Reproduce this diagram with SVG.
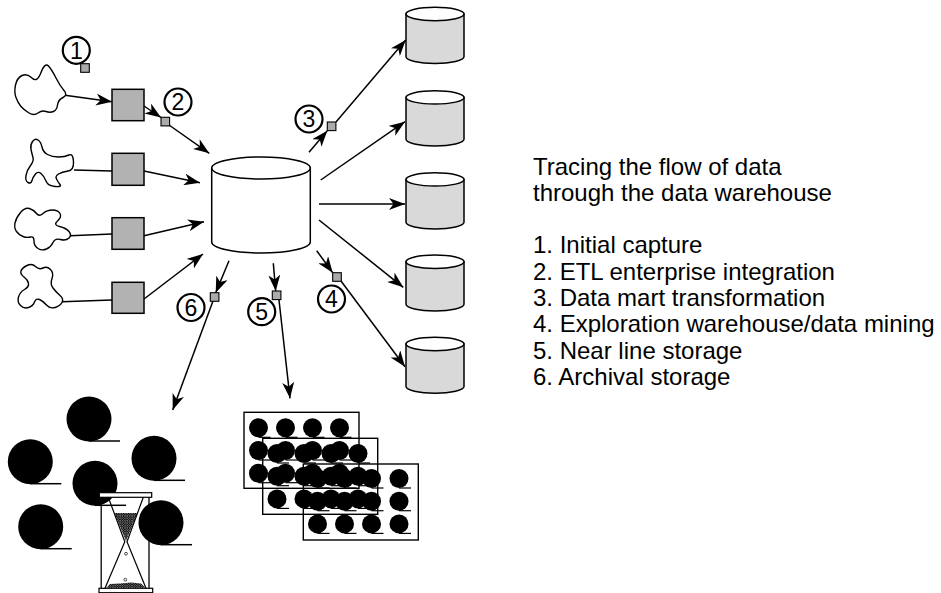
<svg xmlns="http://www.w3.org/2000/svg" xmlns:xlink="http://www.w3.org/1999/xlink" width="941" height="593" viewBox="0 0 941 593">
  <style>
    .ln { stroke: #000; stroke-width: 1.5; fill: none; }
    .arr { marker-end: url(#head); }
    .blob { fill: #fff; stroke: #000; stroke-width: 1.4; stroke-linejoin: round; }
    .box { fill: #b2b2b2; stroke: #000; stroke-width: 1.5; }
    .sq { fill: #ababab; stroke: #000; stroke-width: 1.1; }
    .badge { fill: #fff; stroke: #000; stroke-width: 2.2; }
    .num { font-family: "Liberation Sans", Arial, sans-serif; font-size: 23px; text-anchor: middle; fill: #000; }
    .dw { fill: #fff; stroke: #000; stroke-width: 1.5; }
    .mart { fill: #d9d9d9; stroke: #000; stroke-width: 1.5; }
    .lid { fill: #fff; stroke: #000; stroke-width: 1.5; }
    .card { fill: none; stroke: #000; stroke-width: 1.4; }
    .legend { font-family: "Liberation Sans", Arial, sans-serif; font-size: 24px; fill: #000; }
  </style>
  <defs>
    <marker id="head" viewBox="0 0 16 12" refX="16" refY="6" markerWidth="16" markerHeight="12" markerUnits="userSpaceOnUse" orient="auto">
      <path d="M0,0 L16,6 L0,12 L4.5,6 Z" fill="#000"/>
    </marker>
    <!-- reel of tape: black disc with a trailing strip -->
    <g id="reel">
      <circle r="22.5" fill="#000"/>
      <line x1="0" y1="22" x2="31" y2="22" stroke="#000" stroke-width="1.5"/>
    </g>
    <!-- small reel on a storage card -->
    <g id="dot">
      <circle r="9.5" fill="#000"/>
      <line x1="0" y1="9.5" x2="12" y2="9.5" stroke="#000" stroke-width="1.2"/>
    </g>
    <pattern id="grain" width="2.4" height="2.4" patternUnits="userSpaceOnUse">
      <rect width="2.4" height="2.4" fill="#fff"/>
      <circle cx="1.2" cy="1.2" r="0.8" fill="#fff" stroke="#000" stroke-width="0.9"/>
    </pattern>
  </defs>

  <!-- connectors -->
  <g id="connectors">
    <line class="ln arr" x1="65" y1="95.3" x2="112" y2="101.7"/>
    <line class="ln" x1="74" y1="170" x2="112" y2="171"/>
    <line class="ln" x1="70" y1="235.7" x2="112" y2="234"/>
    <line class="ln" x1="62" y1="301.7" x2="112" y2="300"/>
    <line class="ln arr" x1="144" y1="106" x2="161" y2="117.5"/>
    <line class="ln arr" x1="169" y1="125" x2="209.3" y2="153.3"/>
    <line class="ln arr" x1="144" y1="171" x2="200" y2="182.7"/>
    <line class="ln arr" x1="144" y1="235.7" x2="204" y2="221.7"/>
    <line class="ln arr" x1="144" y1="299" x2="203" y2="254"/>
    <line class="ln arr" x1="309" y1="152.3" x2="327.3" y2="130.8"/>
    <line class="ln arr" x1="336" y1="122" x2="405.7" y2="40"/>
    <line class="ln arr" x1="320.7" y1="180" x2="405" y2="121.7"/>
    <line class="ln arr" x1="319" y1="204" x2="405" y2="204"/>
    <line class="ln arr" x1="319" y1="220" x2="403.3" y2="287.3"/>
    <line class="ln arr" x1="316.7" y1="250.7" x2="332.7" y2="272.7"/>
    <line class="ln arr" x1="341" y1="281" x2="405" y2="366.7"/>
    <line class="ln arr" x1="229" y1="260.7" x2="215.7" y2="292.7"/>
    <line class="ln arr" x1="213" y1="301" x2="172.7" y2="410"/>
    <line class="ln arr" x1="273.3" y1="263.3" x2="275.7" y2="291"/>
    <line class="ln arr" x1="279" y1="300" x2="290" y2="398.3"/>
  </g>

  <!-- sources -->
  <g id="source-1">
    <path class="blob" d="M15.5,85 Q17,78 22,75.5 Q27,73 32,78 Q37,83 41,72.5 Q45,62 48.5,66 Q52,70 56,78 Q60,86 64,90.5 Q68,95 63,97.5 Q58,100 57.5,105 Q57,110 53.5,111.5 Q50,113 46,111.5 Q42,110 38,113 Q34,116 29,113 Q24,110 21,106.5 Q18,103 16,97.5 Q14,92 15.5,85 Z"/>
  </g>
  <g id="source-2">
    <path class="blob" d="M32.5,141.5 Q35,138 38,140 Q41,142 42,147 Q43,152 47.5,154.5 Q52,157 58.5,157 Q65,157 69,155 Q73,153 73.5,161.5 Q74,170 68,171 Q62,172 58.5,174 Q55,176 56.5,179 Q58,182 60,184.5 Q62,187 55,186.5 Q48,186 46,181 Q44,176 41,173.5 Q38,171 35.5,174 Q33,177 32,180.5 Q31,184 28,182.5 Q25,181 26,175.5 Q27,170 30.5,165.5 Q34,161 33,157.5 Q32,154 31,149.5 Q30,145 32.5,141.5 Z"/>
  </g>
  <g id="source-3">
    <path class="blob" d="M15,223 Q16,218 20.5,212.5 Q25,207 29.5,208.5 Q34,210 36.5,213.5 Q39,217 43,213.5 Q47,210 52.5,210 Q58,210 60,213.5 Q62,217 57.5,221 Q53,225 59.5,226.5 Q66,228 69,231.5 Q72,235 69,238 Q66,241 60.5,239.5 Q55,238 53,242.5 Q51,247 46.5,249 Q42,251 38,248.5 Q34,246 34,241 Q34,236 30.5,237 Q27,238 23,236.5 Q19,235 16.5,231.5 Q14,228 15,223 Z"/>
  </g>
  <g id="source-4">
    <path class="blob" d="M27,265.5 Q32,263 35.5,266.5 Q39,270 43,268 Q47,266 50.5,269.5 Q54,273 52,278.5 Q50,284 53,288 Q56,292 60,295.5 Q64,299 62,302.5 Q60,306 55,307.5 Q50,309 46.5,305 Q43,301 39.5,299.5 Q36,298 34.5,302 Q33,306 28.5,307.5 Q24,309 20.5,305.5 Q17,302 18.5,297 Q20,292 24.5,289.5 Q29,287 28.5,283.5 Q28,280 24,277 Q20,274 21,271 Q22,268 27,265.5 Z"/>
  </g>

  <!-- capture programs -->
  <g id="program-1"><rect class="box" x="112" y="89.3" width="32" height="31.4"/></g>
  <g id="program-2"><rect class="box" x="112" y="153.3" width="32" height="32"/></g>
  <g id="program-3"><rect class="box" x="112" y="217.7" width="32" height="31.6"/></g>
  <g id="program-4"><rect class="box" x="112" y="282.3" width="32" height="31"/></g>

  <!-- enterprise data warehouse -->
  <g id="warehouse">
    <path class="dw" d="M211.7,168 V242 A49.3,11 0 0 0 310.3,242 V168 Z"/>
    <ellipse class="dw" cx="261" cy="168" rx="49.3" ry="11"/>
  </g>

  <!-- data marts -->
  <g id="mart-1">
    <path class="mart" d="M406,14 V56.7 A29,6.7 0 0 0 464,56.7 V14 Z"/>
    <ellipse class="lid" cx="435" cy="14" rx="29" ry="6.7"/>
  </g>
  <g id="mart-2">
    <path class="mart" d="M406,97.4 V139.3 A29,6.7 0 0 0 464,139.3 V97.4 Z"/>
    <ellipse class="lid" cx="435" cy="97.4" rx="29" ry="6.7"/>
  </g>
  <g id="mart-3">
    <path class="mart" d="M406,179.4 V222.3 A29,6.7 0 0 0 464,222.3 V179.4 Z"/>
    <ellipse class="lid" cx="435" cy="179.4" rx="29" ry="6.7"/>
  </g>
  <g id="mart-4">
    <path class="mart" d="M406,261.7 V304.3 A29,6.7 0 0 0 464,304.3 V261.7 Z"/>
    <ellipse class="lid" cx="435" cy="261.7" rx="29" ry="6.7"/>
  </g>
  <g id="mart-5">
    <path class="mart" d="M406,344 V386.6 A29,6.7 0 0 0 464,386.6 V344 Z"/>
    <ellipse class="lid" cx="435" cy="344" rx="29" ry="6.7"/>
  </g>

  <!-- archival storage: tape reels and hourglass -->
  <g id="archive">
    <use xlink:href="#reel" x="89" y="419"/>
    <use xlink:href="#reel" x="30.3" y="461.7"/>
    <use xlink:href="#reel" x="154" y="458.3"/>
    <use xlink:href="#reel" x="95" y="483.3"/>
    <use xlink:href="#reel" x="40.7" y="526.7"/>
    <g id="hourglass">
      <rect x="99.3" y="492.7" width="52.4" height="4.6" fill="#fff" stroke="#000" stroke-width="1.2"/>
      <rect x="99" y="588.3" width="53.7" height="4.4" fill="#fff" stroke="#000" stroke-width="1.2"/>
      <line x1="101.2" y1="497.3" x2="101.2" y2="588.3" stroke="#000" stroke-width="1.3"/>
      <line x1="149" y1="497.3" x2="149" y2="588.3" stroke="#000" stroke-width="1.3"/>
      <polygon points="114.5,513 137.3,513 126,541" fill="url(#grain)"/>
      <polygon points="106,588.3 146,588.3 141,583.5 131,582.5 120,583.5 110,584" fill="url(#grain)"/>
      <circle cx="126" cy="553.7" r="1.4" fill="#fff" stroke="#000" stroke-width="0.7"/>
      <circle cx="125.3" cy="579.7" r="1.4" fill="#fff" stroke="#000" stroke-width="0.7"/>
      <polyline points="108.3,497.3 124.8,541.7 105,588.3" fill="none" stroke="#000" stroke-width="1.2"/>
      <polyline points="143.3,497.3 127,541.7 146,588.3" fill="none" stroke="#000" stroke-width="1.2"/>
    </g>
    <use xlink:href="#reel" x="161" y="522.7"/>
  </g>

  <!-- near line storage: stacked cards -->
  <g id="near-line">
    <g id="card-1">
      <rect class="card" x="244" y="412.3" width="115" height="76"/>
      <use xlink:href="#dot" x="258.5" y="427.8"/><use xlink:href="#dot" x="285.5" y="427.8"/><use xlink:href="#dot" x="312.5" y="427.8"/><use xlink:href="#dot" x="339.5" y="427.8"/>
      <use xlink:href="#dot" x="258.5" y="450.5"/><use xlink:href="#dot" x="285.5" y="450.5"/><use xlink:href="#dot" x="312.5" y="450.5"/><use xlink:href="#dot" x="339.5" y="450.5"/>
      <use xlink:href="#dot" x="258.5" y="473.2"/><use xlink:href="#dot" x="285.5" y="473.2"/><use xlink:href="#dot" x="312.5" y="473.2"/><use xlink:href="#dot" x="339.5" y="473.2"/>
    </g>
    <g id="card-2">
      <rect class="card" x="262.7" y="438.3" width="115" height="76"/>
      <use xlink:href="#dot" x="277" y="453.5"/><use xlink:href="#dot" x="304" y="453.5"/><use xlink:href="#dot" x="331" y="453.5"/><use xlink:href="#dot" x="358" y="453.5"/>
      <use xlink:href="#dot" x="277" y="476.2"/><use xlink:href="#dot" x="304" y="476.2"/><use xlink:href="#dot" x="331" y="476.2"/><use xlink:href="#dot" x="358" y="476.2"/>
      <use xlink:href="#dot" x="277" y="498.9"/><use xlink:href="#dot" x="304" y="498.9"/><use xlink:href="#dot" x="331" y="498.9"/><use xlink:href="#dot" x="358" y="498.9"/>
    </g>
    <g id="card-3">
      <rect class="card" x="303.3" y="464" width="115" height="76"/>
      <use xlink:href="#dot" x="317.5" y="478.5"/><use xlink:href="#dot" x="344.5" y="478.5"/><use xlink:href="#dot" x="371.5" y="478.5"/><use xlink:href="#dot" x="399" y="478.5"/>
      <use xlink:href="#dot" x="317.5" y="501.2"/><use xlink:href="#dot" x="344.5" y="501.2"/><use xlink:href="#dot" x="371.5" y="501.2"/><use xlink:href="#dot" x="399" y="501.2"/>
      <use xlink:href="#dot" x="317.5" y="523.9"/><use xlink:href="#dot" x="344.5" y="523.9"/><use xlink:href="#dot" x="371.5" y="523.9"/><use xlink:href="#dot" x="399" y="523.9"/>
    </g>
  </g>

  <!-- numbered stages -->
  <g id="stage-1">
    <rect class="sq" x="80.7" y="63.7" width="8.6" height="8.6"/>
    <circle class="badge" cx="76.3" cy="50.3" r="13.5"/>
    <text class="num" x="76.3" y="58.5">1</text>
  </g>
  <g id="stage-2">
    <rect class="sq" x="161" y="117.3" width="8.6" height="8.6"/>
    <circle class="badge" cx="178" cy="102" r="13.5"/>
    <text class="num" x="178" y="110.2">2</text>
  </g>
  <g id="stage-3">
    <rect class="sq" x="327.3" y="122" width="8.6" height="8.6"/>
    <circle class="badge" cx="309" cy="119" r="13.5"/>
    <text class="num" x="309" y="127.2">3</text>
  </g>
  <g id="stage-4">
    <rect class="sq" x="332.7" y="272.7" width="8.6" height="8.6"/>
    <circle class="badge" cx="331.5" cy="299" r="13.5"/>
    <text class="num" x="331.5" y="307.2">4</text>
  </g>
  <g id="stage-5">
    <rect class="sq" x="272.3" y="291" width="8.6" height="8.6"/>
    <circle class="badge" cx="261.7" cy="311.7" r="13.5"/>
    <text class="num" x="261.7" y="319.9">5</text>
  </g>
  <g id="stage-6">
    <rect class="sq" x="210.3" y="292.7" width="8.6" height="8.6"/>
    <circle class="badge" cx="191" cy="307.5" r="13.5"/>
    <text class="num" x="191" y="315.7">6</text>
  </g>

  <!-- legend -->
  <g id="legend" class="legend">
    <text x="533" y="174.5">Tracing the flow of data</text>
    <text x="533" y="200.8">through the data warehouse</text>
    <text x="533" y="253.4">1. Initial capture</text>
    <text x="533" y="279.7">2. ETL enterprise integration</text>
    <text x="533" y="306">3. Data mart transformation</text>
    <text x="533" y="332.3">4. Exploration warehouse/data mining</text>
    <text x="533" y="358.6">5. Near line storage</text>
    <text x="533" y="384.9">6. Archival storage</text>
  </g>
</svg>
